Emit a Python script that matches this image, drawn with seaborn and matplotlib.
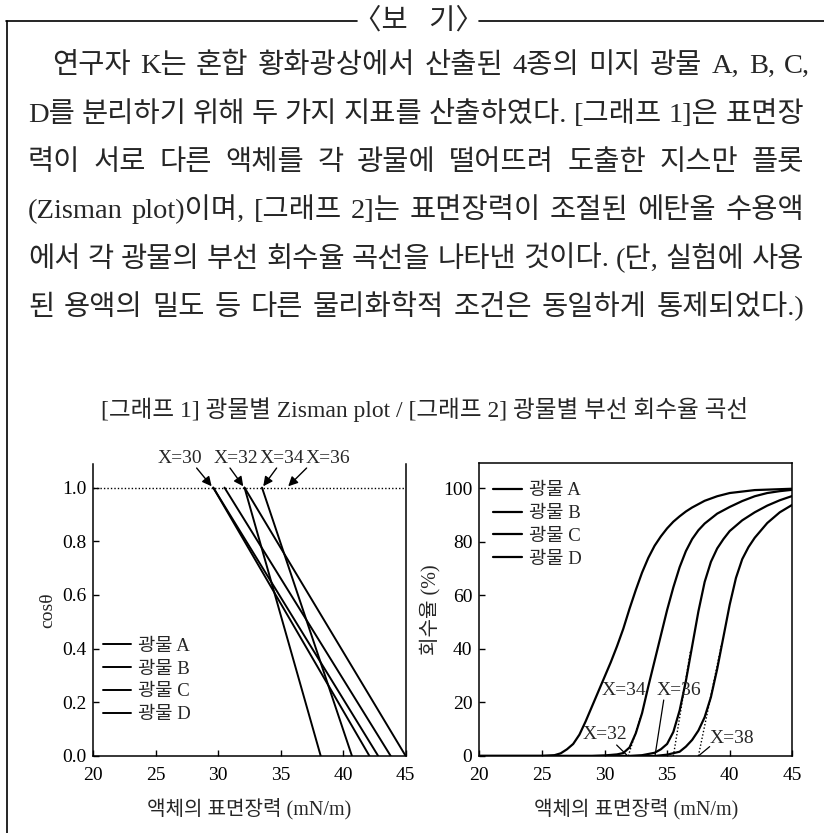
import numpy as np
import pandas as pd
import matplotlib
matplotlib.use("Agg")
import matplotlib.pyplot as plt
from matplotlib.lines import Line2D
from matplotlib.ticker import FormatStrFormatter
import seaborn as sns

MINERALS = ["광물 A", "광물 B", "광물 C", "광물 D"]

# [그래프 1] Zisman plot: each straight line runs from cosθ = 1 down to cosθ = 0
zisman_mineral = ["광물 A", "광물 A", "광물 B", "광물 C", "광물 C", "광물 D"]
zisman_top = [29.6, 29.6, 30.5, 32.1, 32.1, 33.5]
zisman_bottom = [42.1, 42.8, 43.8, 38.2, 45.0, 40.7]

critical_labels = ["X=30", "X=32", "X=34", "X=36"]
critical_tips = [29.47, 32.0, 33.6, 35.6]
critical_tails = [28.27, 30.94, 34.67, 37.07]
critical_text_x = [26.94, 31.38, 35.1, 38.78]

# [그래프 2] flotation recovery curves
rec_A_x = [20, 25, 26, 26.5, 27, 27.5, 28, 28.5, 29, 29.5, 30, 30.5, 31, 31.5, 32,
           32.5, 33, 33.5, 34, 34.5, 35, 35.5, 36, 36.5, 37, 38, 39, 40, 42, 45]
rec_A_y = [0, 0, 0.3, 1, 2.5, 4.5, 8, 13, 18.5, 24, 29.5, 35, 41, 47.5, 55,
           62, 68.5, 74, 78.5, 82, 85, 87.5, 89.5, 91.3, 92.8, 95.3, 97, 98.2, 99.3, 99.8]
rec_B_x = [20, 29, 30, 31, 31.5, 32, 32.5, 33, 33.5, 34, 34.5, 35, 35.5, 36, 36.5,
           37, 37.5, 38, 39, 40, 41, 42, 43, 44, 45]
rec_B_y = [0, 0, 0.2, 0.6, 1.1, 3.2, 8.5, 16, 26, 35.5, 45, 54.5, 63, 70.5, 76.5,
           81, 84.3, 86.8, 90.5, 93, 95.2, 97, 98.2, 98.9, 99.4]
rec_C_x = [20, 32, 33, 34, 34.5, 35, 35.5, 36, 36.5, 37, 37.5, 38, 38.5, 39, 39.5,
           40, 41, 42, 43, 44, 45]
rec_C_y = [0, 0, 0.3, 1.2, 2.5, 4.5, 9, 17, 28, 41, 54, 65, 72.5, 77.5, 81,
           84, 88, 91, 93.5, 95.5, 97.1]
rec_D_x = [20, 34, 35, 36, 36.5, 37, 37.5, 38, 38.5, 39, 39.5, 40, 40.5, 41, 41.5,
           42, 43, 44, 45]
rec_D_y = [0, 0, 0.5, 1.6, 3.5, 6, 9.5, 14.5, 22, 32.5, 44.5, 56.5, 66.5, 73.5, 78,
           81.5, 87, 91, 93.8]

# dotted tangents (x-intercept -> contact point)
tangent_x0 = [31.9, 35.5, 37.5]
tangent_x1 = [32.9, 36.88, 39.36]
tangent_y1 = [15, 39.6, 42]

rec_labels = ["X=32", "X=34", "X=36", "X=38"]
rec_label_x = [30.0, 31.55, 35.95, 40.15]
rec_label_y = [7.9, 24.5, 24.5, 6.6]
# leader lines (from label -> to axis)
leader_x0 = [30.97, 34.73, 38.4]
leader_y0 = [4.1, 20.9, 3.5]
leader_x1 = [31.77, 34.03, 37.5]
leader_y1 = [0.4, 0.0, 0.0]

paragraph = [
    "연구자 K는 혼합 황화광상에서 산출된 4종의 미지 광물 A, B, C,",
    "D를 분리하기 위해 두 가지 지표를 산출하였다. [그래프 1]은 표면장",
    "력이 서로 다른 액체를 각 광물에 떨어뜨려 도출한 지스만 플롯",
    "(Zisman plot)이며, [그래프 2]는 표면장력이 조절된 에탄올 수용액",
    "에서 각 광물의 부선 회수율 곡선을 나타낸 것이다. (단, 실험에 사용",
    "된 용액의 밀도 등 다른 물리화학적 조건은 동일하게 통제되었다.)",
]
chart_title = "[그래프 1] 광물별 Zisman plot / [그래프 2] 광물별 부선 회수율 곡선"
xlabel = "액체의 표면장력 (mN/m)"

sns.set_style("ticks")
plt.rcParams["font.family"] = ["Liberation Serif", "Noto Sans CJK KR"]
plt.rcParams["axes.unicode_minus"] = False

W, H = 824, 833
fig = plt.figure(figsize=(W / 100, H / 100), dpi=100)
renderer = fig.canvas.get_renderer()


def fx(px):
    return px / W


def fy(py):
    return 1 - py / H


# ---- box with header
fig.add_artist(Line2D([fx(6), fx(357)], [fy(21), fy(21)], color="black", lw=1.2))
fig.add_artist(Line2D([fx(479), fx(824)], [fy(21), fy(21)], color="black", lw=1.2))
fig.add_artist(Line2D([fx(6.5), fx(6.5)], [fy(21), fy(833)], color="black", lw=1.2))
fig.text(fx(418), fy(21), "〈보   기〉", fontsize=20.5, ha="center", va="center")


def justify(text, y_px, x0, x1, size):
    # word-by-word placement on a common baseline, spread to both margins
    words = text.split(" ")
    arts = [fig.text(0, fy(y_px + 10), w, fontsize=size, ha="left", va="baseline")
            for w in words]
    widths = [a.get_window_extent(renderer).width for a in arts]
    gap = (x1 - x0 - sum(widths)) / (len(words) - 1)
    x = x0
    for a, w in zip(arts, widths):
        a.set_x(fx(x))
        x += w + gap


line_y = [63, 112, 160, 208, 257, 305]
for i, (txt, y) in enumerate(zip(paragraph, line_y)):
    justify(txt, y, 52 if i == 0 else 28, 810 if i == 0 else 804, 20.5)

fig.text(fx(425), fy(410), chart_title, fontsize=17, ha="center", va="center")

# ---- axes
ax1 = fig.add_axes([fx(93.3), fy(756), (405.7 - 93.3) / W, (756 - 464) / H])
ax2 = fig.add_axes([fx(479.3), fy(756), (792.3 - 479.3) / W, (756 - 463.3) / H])
black = {m: "black" for m in MINERALS}

zis_df = pd.DataFrame({
    "line": np.repeat(np.arange(len(zisman_top)), 2),
    "광물": np.repeat(zisman_mineral, 2),
    "gamma": np.column_stack([zisman_top, zisman_bottom]).ravel(),
    "cos": [1.0, 0.0] * len(zisman_top),
})
sns.lineplot(data=zis_df, x="gamma", y="cos", hue="광물", hue_order=MINERALS,
             units="line", estimator=None, sort=False, palette=black, lw=1.4, ax=ax1)
ax1.axhline(1.0, ls=(0, (1, 1.5)), color="black", lw=1)

for lab, tip, tail, tx in zip(critical_labels, critical_tips, critical_tails, critical_text_x):
    ax1.text(tx, 1.107, lab, fontsize=14, ha="center", va="center", clip_on=False)
    ax1.annotate("", xy=(tip, 1.005), xytext=(tail, 1.073), annotation_clip=False,
                 arrowprops=dict(arrowstyle="-|>", color="black", lw=1,
                                 mutation_scale=14, shrinkA=0, shrinkB=0))

ax1.set_xlim(20, 45)
ax1.set_ylim(0, 1.088)
ax1.set_xticks(range(20, 46, 5))
ax1.set_yticks(np.arange(0, 1.01, 0.2))
ax1.yaxis.set_major_formatter(FormatStrFormatter("%.1f"))
ax1.spines["top"].set_visible(False)
ax1.set_ylabel("cosθ", fontsize=14, labelpad=4)
sns.move_legend(ax1, "upper left", bbox_to_anchor=(0.03, 0.405), title=None, frameon=False,
                fontsize=13.5, handlelength=1.5, handletextpad=0.4, labelspacing=0.3,
                borderpad=0, borderaxespad=0)

rec_df = pd.concat([
    pd.DataFrame({"광물": m, "x": xs, "y": ys})
    for m, xs, ys in zip(MINERALS, [rec_A_x, rec_B_x, rec_C_x, rec_D_x],
                         [rec_A_y, rec_B_y, rec_C_y, rec_D_y])
])
sns.lineplot(data=rec_df, x="x", y="y", hue="광물", hue_order=MINERALS,
             estimator=None, palette=black, lw=1.6, ax=ax2)

for x0, x1, y1 in zip(tangent_x0, tangent_x1, tangent_y1):
    ax2.plot([x0, x1], [0, y1], ls=(0, (1, 1.5)), color="black", lw=1)
for x0, y0, x1, y1 in zip(leader_x0, leader_y0, leader_x1, leader_y1):
    ax2.plot([x0, x1], [y0, y1], color="black", lw=0.9)
for lab, tx, ty in zip(rec_labels, rec_label_x, rec_label_y):
    ax2.text(tx, ty, lab, fontsize=14, ha="center", va="center")

ax2.set_xlim(20, 45)
ax2.set_ylim(0, 109.3)
ax2.set_xticks(range(20, 46, 5))
ax2.set_yticks(range(0, 101, 20))
ax2.set_ylabel("회수율 (%)", fontsize=14.5, labelpad=2)
sns.move_legend(ax2, "upper left", bbox_to_anchor=(0.045, 0.935), title=None, frameon=False,
                fontsize=13.5, handlelength=1.5, handletextpad=0.4, labelspacing=0.3,
                borderpad=0, borderaxespad=0)

for ax in (ax1, ax2):
    ax.set_xlabel(xlabel, fontsize=14.5, labelpad=10)
    ax.tick_params(direction="in", length=4, width=1, labelsize=14, colors="black", pad=5)
    ax.tick_params(axis="x", pad=8)
    for s in ax.spines.values():
        s.set_linewidth(1.1)
        s.set_color("black")

fig.savefig("out.png", dpi=100)
